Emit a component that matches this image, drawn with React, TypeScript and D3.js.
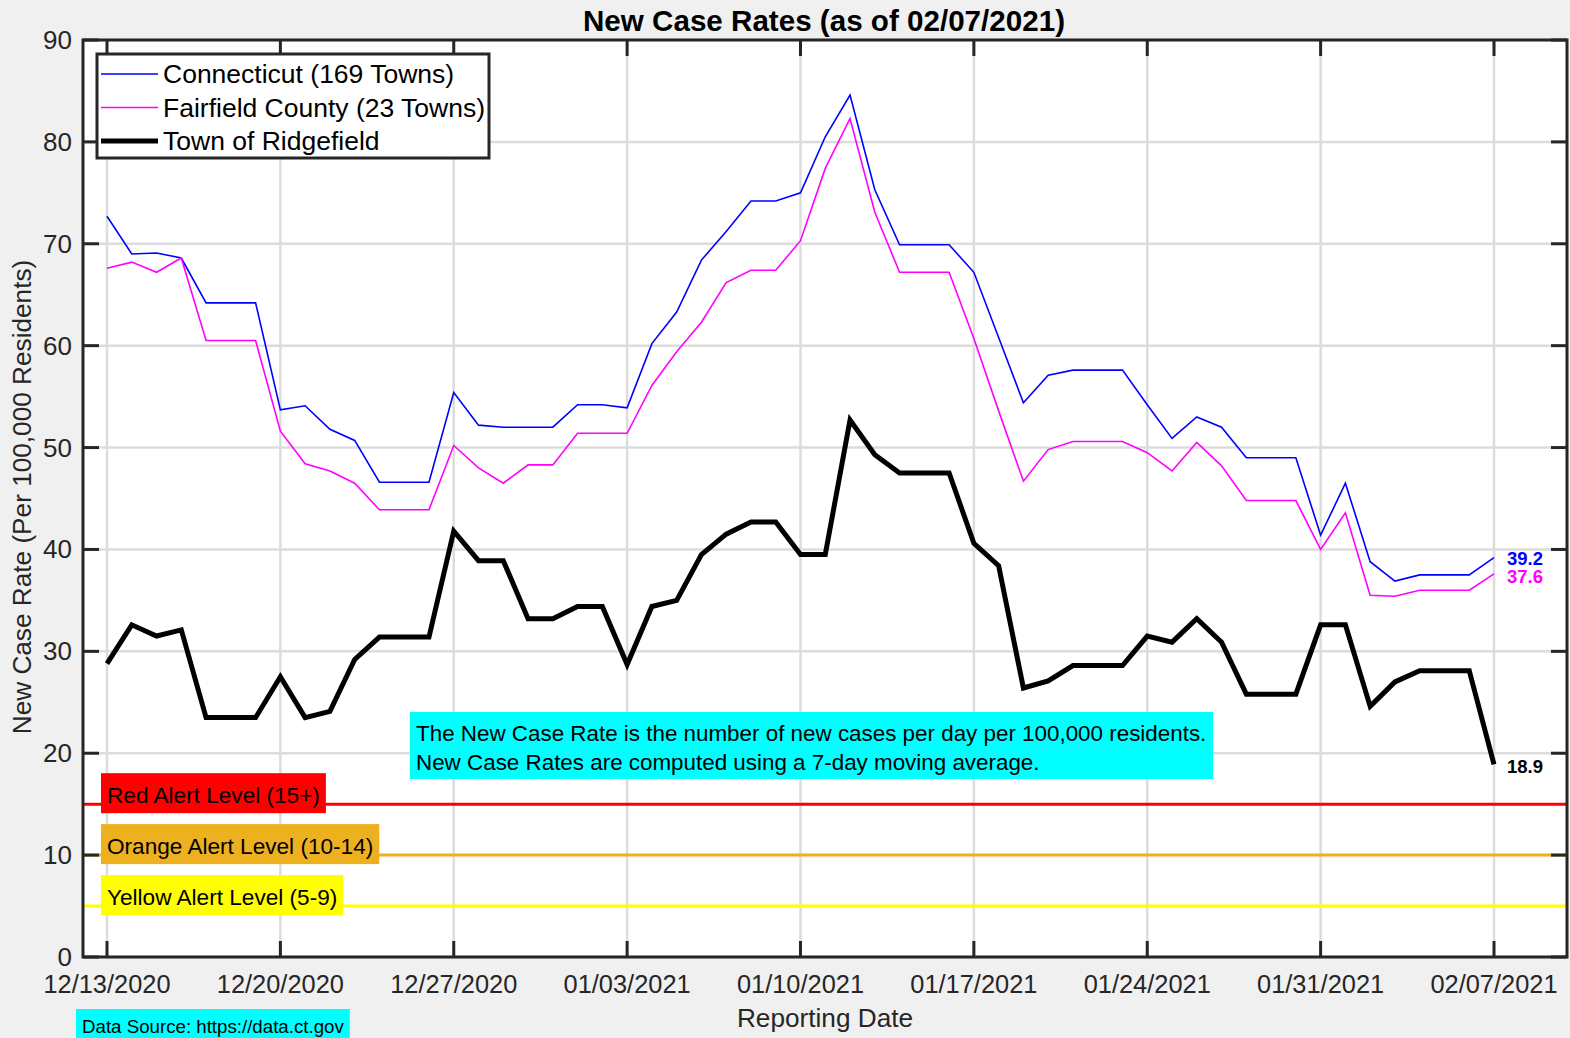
import React, { useEffect, useRef } from 'react';
import * as d3 from 'd3';

// 7-day average new case rates per 100k, one value per reporting day (12/13/2020 .. 02/07/2021)
const connecticut = [
  72.7, 69.0, 69.1, 68.6, 64.2, 64.2, 64.2, 53.7, 54.1, 51.8, 50.7, 46.6, 46.6, 46.6,
  55.4, 52.2, 52.0, 52.0, 52.0, 54.2, 54.2, 53.9, 60.2, 63.3, 68.4, 71.2, 74.2, 74.2,
  75.0, 80.5, 84.6, 75.3, 69.9, 69.9, 69.9, 67.2, 60.8, 54.4, 57.1, 57.6, 57.6, 57.6,
  54.2, 50.9, 53.0, 52.0, 49.0, 49.0, 49.0, 41.4, 46.5, 38.8, 36.9, 37.5, 37.5, 37.5, 39.2,
];
const fairfield = [
  67.6, 68.2, 67.2, 68.6, 60.5, 60.5, 60.5, 51.6, 48.4, 47.7, 46.5, 43.9, 43.9, 43.9,
  50.2, 48.0, 46.5, 48.3, 48.3, 51.4, 51.4, 51.4, 56.1, 59.4, 62.3, 66.2, 67.4, 67.4,
  70.3, 77.4, 82.3, 73.1, 67.2, 67.2, 67.2, 60.7, 53.6, 46.7, 49.8, 50.6, 50.6, 50.6,
  49.5, 47.7, 50.5, 48.2, 44.8, 44.8, 44.8, 40.0, 43.6, 35.5, 35.4, 36.0, 36.0, 36.0, 37.6,
];
const ridgefield = [
  28.8, 32.6, 31.5, 32.1, 23.5, 23.5, 23.5, 27.5, 23.5, 24.1, 29.2, 31.4, 31.4, 31.4,
  41.8, 38.9, 38.9, 33.2, 33.2, 34.4, 34.4, 28.7, 34.4, 35.0, 39.5, 41.5, 42.7, 42.7,
  39.5, 39.5, 52.7, 49.3, 47.5, 47.5, 47.5, 40.6, 38.4, 26.4, 27.1, 28.6, 28.6, 28.6,
  31.5, 30.9, 33.2, 30.9, 25.8, 25.8, 25.8, 32.6, 32.6, 24.6, 27.0, 28.1, 28.1, 28.1, 18.9,
];

const startDate = new Date(2020, 11, 13);
const endDate = new Date(2021, 1, 7);
const dates = d3.timeDay.range(startDate, d3.timeDay.offset(endDate, 1));

const tickDates = d3.timeWeek.range(startDate, d3.timeDay.offset(endDate, 1));
const yTicks = [0, 10, 20, 30, 40, 50, 60, 70, 80, 90];

const seriesNames = ['Connecticut (169 Towns)', 'Fairfield County (23 Towns)', 'Town of Ridgefield'];
const seriesColors = ['#0000ff', '#ff00ff', '#000000'];
const seriesWidths = [1.6, 1.6, 5];

const alertLevels = [
  { label: 'Red Alert Level (15+)', value: 15, color: '#ff0000' },
  { label: 'Orange Alert Level (10-14)', value: 10, color: '#edb120' },
  { label: 'Yellow Alert Level (5-9)', value: 5, color: '#ffff00' },
];

const noteLines = [
  'The New Case Rate is the number of new cases per day per 100,000 residents.',
  'New Case Rates are computed using a 7-day moving average.',
];

const FONT = 'Arial, "Liberation Sans", Helvetica, sans-serif';

const App: React.FC = () => {
  const ref = useRef<SVGSVGElement | null>(null);

  useEffect(() => {
    if (!ref.current) return;
    const svg = d3.select(ref.current);
    svg.selectAll('*').remove();

    const W = 1570;
    const H = 1038;
    const left = 83, right = 1567, top = 40, bottom = 957;

    const x = d3.scaleTime().domain([startDate, endDate]).range([107, 1494]);
    const y = d3.scaleLinear().domain([0, 90]).range([bottom, top]);

    svg.append('rect').attr('width', W).attr('height', H).attr('fill', '#f0f0f0');
    svg.append('rect')
      .attr('x', left).attr('y', top)
      .attr('width', right - left).attr('height', bottom - top)
      .attr('fill', '#ffffff');

    const g = svg.append('g').attr('font-family', FONT);

    // grid
    g.selectAll('.gy').data(yTicks).enter().append('line')
      .attr('x1', left).attr('x2', right)
      .attr('y1', d => y(d)).attr('y2', d => y(d))
      .attr('stroke', '#dcdcdc').attr('stroke-width', 2.5);
    g.selectAll('.gx').data(tickDates).enter().append('line')
      .attr('x1', d => x(d)).attr('x2', d => x(d))
      .attr('y1', top).attr('y2', bottom)
      .attr('stroke', '#dcdcdc').attr('stroke-width', 2.5);

    // alert levels
    alertLevels.forEach(a => {
      g.append('line')
        .attr('x1', left).attr('x2', right)
        .attr('y1', y(a.value)).attr('y2', y(a.value))
        .attr('stroke', a.color).attr('stroke-width', 3);
    });

    // lines
    const series = [connecticut, fairfield, ridgefield];
    const line = d3.line<number>().x((_, i) => x(dates[i])).y(d => y(d));
    series.forEach((s, k) => {
      g.append('path')
        .datum(s)
        .attr('d', line)
        .attr('fill', 'none')
        .attr('stroke', seriesColors[k])
        .attr('stroke-width', seriesWidths[k])
        .attr('stroke-linejoin', 'miter');
    });

    // alert labels
    alertLevels.forEach(a => {
      const lg = g.append('g');
      const t = lg.append('text')
        .attr('x', 107).attr('y', y(a.value) - 1)
        .attr('font-size', 22.6).attr('fill', '#000')
        .text(a.label);
      const w = (t.node() as SVGTextElement).getComputedTextLength();
      lg.insert('rect', 'text')
        .attr('x', 101).attr('y', y(a.value) - 31)
        .attr('width', w + 12).attr('height', 40)
        .attr('fill', a.color);
    });

    // note box
    const ng = g.append('g');
    ng.append('rect')
      .attr('x', 410).attr('y', 712).attr('width', 803).attr('height', 67)
      .attr('fill', '#00ffff');
    noteLines.forEach((t, i) => {
      ng.append('text')
        .attr('x', 416).attr('y', 741 + i * 29)
        .attr('font-size', 22.4).attr('fill', '#000')
        .text(t);
    });

    // end value labels
    const endVals = [connecticut[56], fairfield[56], ridgefield[56]];
    const endY = [y(endVals[0]) + 7, y(endVals[1]) + 9, y(endVals[2]) + 9];
    endVals.forEach((v, k) => {
      g.append('text')
        .attr('x', 1507).attr('y', endY[k])
        .attr('font-size', 18.5).attr('font-weight', 'bold')
        .attr('fill', seriesColors[k])
        .text(v.toFixed(1));
    });

    // axes box + ticks
    const axisColor = '#262626';
    g.append('rect')
      .attr('x', left).attr('y', top)
      .attr('width', right - left).attr('height', bottom - top)
      .attr('fill', 'none').attr('stroke', axisColor).attr('stroke-width', 3);
    const tl = 16;
    yTicks.forEach(v => {
      g.append('line').attr('x1', left).attr('x2', left + tl)
        .attr('y1', y(v)).attr('y2', y(v)).attr('stroke', axisColor).attr('stroke-width', 3);
      g.append('line').attr('x1', right - tl).attr('x2', right)
        .attr('y1', y(v)).attr('y2', y(v)).attr('stroke', axisColor).attr('stroke-width', 3);
      g.append('text')
        .attr('x', 72).attr('y', y(v) + 9)
        .attr('text-anchor', 'end').attr('font-size', 26).attr('fill', axisColor)
        .text(v);
    });
    const fmt = d3.timeFormat('%m/%d/%Y');
    tickDates.forEach(d => {
      g.append('line').attr('x1', x(d)).attr('x2', x(d))
        .attr('y1', bottom - tl).attr('y2', bottom).attr('stroke', axisColor).attr('stroke-width', 3);
      g.append('line').attr('x1', x(d)).attr('x2', x(d))
        .attr('y1', top).attr('y2', top + tl).attr('stroke', axisColor).attr('stroke-width', 3);
      g.append('text')
        .attr('x', x(d)).attr('y', 993)
        .attr('text-anchor', 'middle').attr('font-size', 25.4).attr('fill', axisColor)
        .text(fmt(d));
    });

    // legend
    const lg = g.append('g');
    lg.append('rect')
      .attr('x', 97).attr('y', 54).attr('width', 392).attr('height', 104)
      .attr('fill', '#fff').attr('stroke', axisColor).attr('stroke-width', 3);
    seriesNames.forEach((n, k) => {
      const yy = 74 + k * 33.5;
      lg.append('line').attr('x1', 101).attr('x2', 158).attr('y1', yy).attr('y2', yy)
        .attr('stroke', seriesColors[k]).attr('stroke-width', seriesWidths[k]);
      lg.append('text').attr('x', 163).attr('y', yy + 9)
        .attr('font-size', 26.5).attr('fill', '#000').text(n);
    });

    // titles
    g.append('text')
      .attr('x', 824).attr('y', 31)
      .attr('text-anchor', 'middle').attr('font-size', 29.6).attr('font-weight', 'bold')
      .attr('fill', '#000')
      .text('New Case Rates (as of 02/07/2021)');
    g.append('text')
      .attr('x', 825).attr('y', 1027)
      .attr('text-anchor', 'middle').attr('font-size', 26.2).attr('fill', axisColor)
      .text('Reporting Date');
    g.append('text')
      .attr('transform', 'translate(31,497) rotate(-90)')
      .attr('text-anchor', 'middle').attr('font-size', 26.2).attr('fill', axisColor)
      .text('New Case Rate (Per 100,000 Residents)');

    // data source
    const ds = g.append('g');
    const dt = ds.append('text')
      .attr('x', 82).attr('y', 1033)
      .attr('font-size', 18.7).attr('fill', '#000')
      .text('Data Source: https://data.ct.gov');
    const dw = (dt.node() as SVGTextElement).getComputedTextLength();
    ds.insert('rect', 'text')
      .attr('x', 76).attr('y', 1009).attr('width', dw + 12).attr('height', 31)
      .attr('fill', '#00ffff');
  }, []);

  return (
    <svg
      ref={ref}
      width={1570}
      height={1038}
      style={{ position: 'absolute', left: 0, top: 0, display: 'block' }}
    />
  );
};

export default App;
